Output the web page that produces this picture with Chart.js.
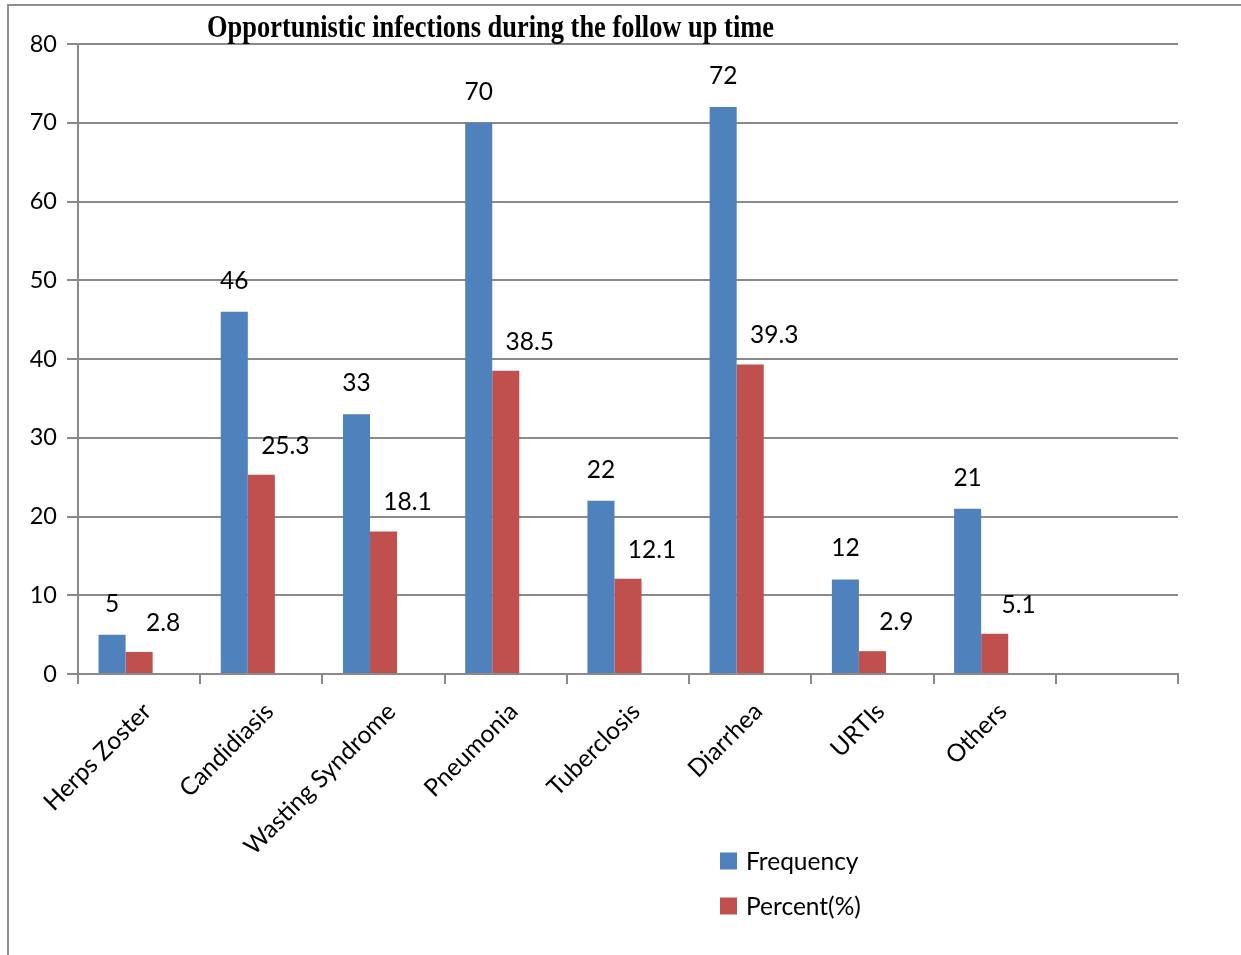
<!DOCTYPE html>
<html>
<head>
<meta charset="utf-8">
<script src="https://cdn.jsdelivr.net/npm/chart.js@4.4.1/dist/chart.umd.min.js"></script>
<style>
  html, body { margin: 0; padding: 0; background: #ffffff; }
  #wrap { width: 1241px; height: 955px; position: relative; }
</style>
</head>
<body>
<div id="wrap"><canvas id="chart" width="1241" height="955"></canvas></div>
<script>
// Opportunistic infections recorded during follow-up
const chartTitle = 'Opportunistic infections during the follow up time';
const categories = ['Herps Zoster', 'Candidiasis', 'Wasting Syndrome', 'Pneumonia', 'Tuberclosis', 'Diarrhea', 'URTIs', 'Others', ''];
const frequency = [5, 46, 33, 70, 22, 72, 12, 21, null];
const percent = [2.8, 25.3, 18.1, 38.5, 12.1, 39.3, 2.9, 5.1, null];
const yMin = 0;
const yMax = 80;
const yStep = 10;

const BLUE = '#4F81BD';
const RED = '#C0504D';
const GRID = '#8a8a8a';
const SANS = 'Lato, "Open Sans", sans-serif';

// white page with the outer frame lines
const framePlugin = {
  id: 'frame',
  beforeDraw(chart) {
    const ctx = chart.ctx;
    ctx.save();
    ctx.fillStyle = '#ffffff';
    ctx.fillRect(0, 0, chart.width, chart.height);
    ctx.strokeStyle = '#8f8f8f';
    ctx.lineWidth = 2;
    ctx.beginPath();
    ctx.moveTo(chart.width, 5);
    ctx.lineTo(8, 5);
    ctx.lineTo(8, chart.height);
    ctx.stroke();
    ctx.restore();
  }
};

// condensed bold serif heading
const titlePlugin = {
  id: 'condensedTitle',
  afterDraw(chart) {
    const ctx = chart.ctx;
    ctx.save();
    ctx.font = 'bold 32px "Liberation Serif", "Times New Roman", serif';
    const w = ctx.measureText(chartTitle).width;
    const sx = 567 / w;
    ctx.translate(490.5, 36.5);
    ctx.scale(sx, 1);
    ctx.fillStyle = '#000000';
    ctx.textAlign = 'center';
    ctx.textBaseline = 'alphabetic';
    ctx.fillText(chartTitle, 0, 0);
    ctx.restore();
  }
};

// value labels above the bars
const valueLabelPlugin = {
  id: 'valueLabels',
  afterDatasetsDraw(chart) {
    const ctx = chart.ctx;
    ctx.save();
    ctx.font = '24.5px ' + SANS;
    ctx.fillStyle = '#000000';
    ctx.textAlign = 'center';
    ctx.textBaseline = 'middle';
    chart.data.datasets.forEach((ds, i) => {
      const lab = ds.valueLabel;
      if (!lab) return;
      const meta = chart.getDatasetMeta(i);
      meta.data.forEach((bar, j) => {
        const v = ds.data[j];
        if (v === null || v === undefined) return;
        ctx.fillText(String(v), bar.x + lab.dx, bar.y - lab.dy);
      });
    });
    ctx.restore();
  }
};

// stacked legend in the lower right
const legendPlugin = {
  id: 'boxLegend',
  afterDraw(chart) {
    const ctx = chart.ctx;
    ctx.save();
    ctx.font = '24.5px ' + SANS;
    ctx.textAlign = 'left';
    ctx.textBaseline = 'middle';
    let y = 861;
    chart.data.datasets.forEach(ds => {
      if (!ds.label) return;
      ctx.fillStyle = ds.backgroundColor;
      ctx.fillRect(720, y - 8.5, 17, 17);
      ctx.fillStyle = '#000000';
      ctx.fillText(ds.label, 746, y + 1);
      y += 45;
    });
    ctx.restore();
  }
};

new Chart(document.getElementById('chart'), {
  type: 'bar',
  data: {
    labels: categories,
    datasets: [
      { label: 'Frequency', data: frequency, backgroundColor: BLUE, valueLabel: { dx: 0, dy: 31 } },
      { label: 'Percent(%)', data: percent, backgroundColor: RED, valueLabel: { dx: 24, dy: 29 } },
      // empty third slot in every group
      { label: '', data: [], backgroundColor: 'rgba(0,0,0,0)' }
    ]
  },
  options: {
    responsive: false,
    devicePixelRatio: 1,
    animation: false,
    layout: { padding: { top: 44, right: 63, bottom: 0, left: 0 } },
    datasets: { bar: { categoryPercentage: 81 / 122, barPercentage: 1 } },
    plugins: {
      legend: { display: false },
      title: { display: false },
      tooltip: { enabled: false }
    },
    scales: {
      x: {
        ticks: {
          color: '#000000',
          font: { family: SANS, size: 24.5 },
          minRotation: 45,
          maxRotation: 45,
          autoSkip: false,
          padding: 13,
          labelOffset: 8
        },
        grid: {
          display: true,
          drawOnChartArea: false,
          drawTicks: true,
          tickLength: 10,
          color: GRID,
          lineWidth: 2,
          offset: true
        },
        border: { color: GRID, width: 2 },
        afterFit(s) { s.height = 281; s.paddingLeft = 0; s.paddingRight = 0; }
      },
      y: {
        min: yMin,
        max: yMax,
        ticks: {
          stepSize: yStep,
          color: '#000000',
          font: { family: SANS, size: 23.5 },
          padding: 10
        },
        grid: {
          color: GRID,
          lineWidth: 2,
          tickLength: 11,
          drawTicks: true
        },
        border: { color: GRID, width: 2 },
        afterFit(s) { s.width = 78; s.paddingTop = 0; s.paddingBottom = 0; }
      }
    }
  },
  plugins: [framePlugin, titlePlugin, valueLabelPlugin, legendPlugin]
});
</script>
</body>
</html>
